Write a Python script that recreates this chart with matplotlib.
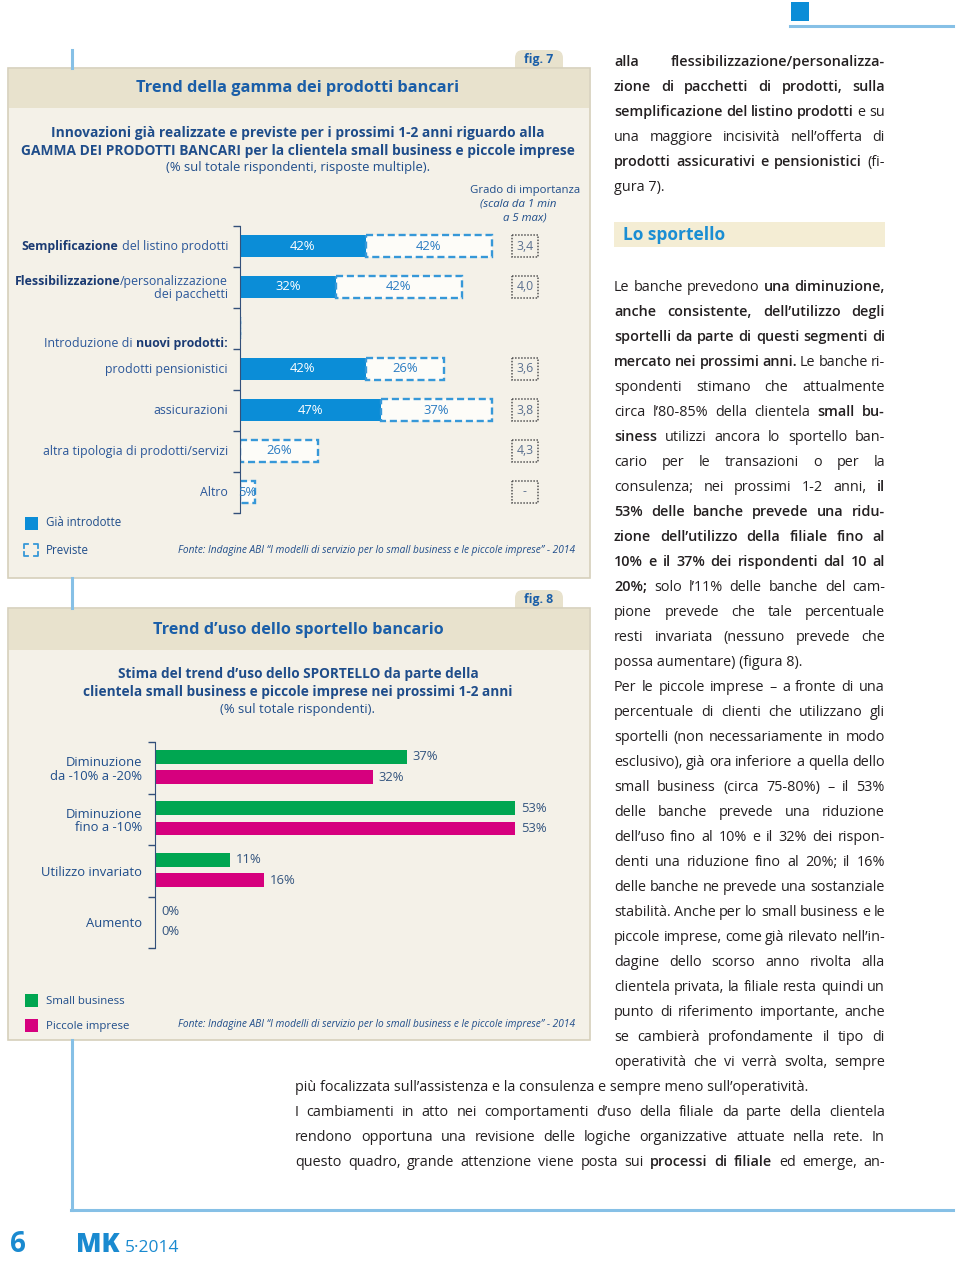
import matplotlib
matplotlib.use('Agg')
import numpy as np
import matplotlib.pyplot as plt
import matplotlib.transforms as mtransforms
from matplotlib.patches import Rectangle, FancyBboxPatch
from matplotlib.lines import Line2D

plt.rcParams['font.family'] = ['Open Sans', 'DejaVu Sans']

# dati fig. 7 (% rispondenti)
cat7 = ['*Semplificazione* del listino prodotti',
        '*Flessibilizzazione*/personalizzazione\ndei pacchetti',
        'Introduzione di *nuovi prodotti:*',
        'prodotti pensionistici',
        'assicurazioni',
        'altra tipologia di prodotti/servizi',
        'Altro']
gia7 = [42, 32, 0, 42, 47, 0, 0]
prev7 = [42, 42, 0, 26, 37, 26, 5]
grado7 = ['3,4', '4,0', '', '3,6', '3,8', '4,3', '-']

# dati fig. 8
cat8 = ['Diminuzione\nda -10% a -20%', 'Diminuzione\nfino a -10%', 'Utilizzo invariato', 'Aumento']
small8 = [37, 53, 11, 0]
piccole8 = [32, 53, 16, 0]

# testo colonna destra  (y, testo, giustificato)  *...* = grassetto
col_dx = [
    (61, '*alla flessibilizzazione/personalizza-*', True),
    (86, '*zione di pacchetti di prodotti, sulla*', True),
    (111, '*semplificazione del listino prodotti* e su', True),
    (136, 'una maggiore incisività nell’offerta di', True),
    (161, '*prodotti assicurativi e pensionistici* (fi-', True),
    (186, 'gura 7).', False),
    (286, 'Le banche prevedono *una diminuzione,*', True),
    (311, '*anche consistente, dell’utilizzo degli*', True),
    (336, '*sportelli da parte di questi segmenti di*', True),
    (361, '*mercato nei prossimi anni.* Le banche ri-', True),
    (386, 'spondenti stimano che attualmente', True),
    (411, 'circa l’80-85% della clientela *small bu-*', True),
    (436, '*siness* utilizzi ancora lo sportello ban-', True),
    (461, 'cario per le transazioni o per la', True),
    (486, 'consulenza; nei prossimi 1-2 anni, *il*', True),
    (511, '*53% delle banche prevede una ridu-*', True),
    (536, '*zione dell’utilizzo della filiale fino al*', True),
    (561, '*10% e il 37% dei rispondenti dal 10 al*', True),
    (586, '*20%;* solo l’11% delle banche del cam-', True),
    (611, 'pione prevede che tale percentuale', True),
    (636, 'resti invariata (nessuno prevede che', True),
    (661, 'possa aumentare) (figura 8).', False),
    (686, 'Per le piccole imprese – a fronte di una', True),
    (711, 'percentuale di clienti che utilizzano gli', True),
    (736, 'sportelli (non necessariamente in modo', True),
    (761, 'esclusivo), già ora inferiore a quella dello', True),
    (786, 'small business (circa 75-80%) – il 53%', True),
    (811, 'delle banche prevede una riduzione', True),
    (836, 'dell’uso fino al 10% e il 32% dei rispon-', True),
    (861, 'denti una riduzione fino al 20%; il 16%', True),
    (886, 'delle banche ne prevede una sostanziale', True),
    (911, 'stabilità. Anche per lo small business e le', True),
    (936, 'piccole imprese, come già rilevato nell’in-', True),
    (961, 'dagine dello scorso anno rivolta alla', True),
    (986, 'clientela privata, la filiale resta quindi un', True),
    (1011, 'punto di riferimento importante, anche', True),
    (1036, 'se cambierà profondamente il tipo di', True),
    (1061, 'operatività che vi verrà svolta, sempre', True),
]
col_basso = [
    (1086, 'più focalizzata sull’assistenza e la consulenza e sempre meno sull’operatività.', False),
    (1111, 'I cambiamenti in atto nei comportamenti d’uso della filiale da parte della clientela', True),
    (1136, 'rendono opportuna una revisione delle logiche organizzative attuate nella rete. In', True),
    (1161, 'questo quadro, grande attenzione viene posta sui *processi di filiale* ed emerge, an-', True),
]

BLUE = '#0b8dd7'
DASH = '#3698d8'
TITLE = '#1a5ea8'
DARK = '#1f4d8a'
NAVY = '#1b3b73'
LABEL = '#2b5799'
BODY = '#231f20'
BOXBG = '#f4f1e8'
HEADBG = '#e8e2cd'
BORDER = '#d6d0bb'
RULE = '#86c0e6'
FOOT = '#1a8ad0'
GREEN = '#00a651'
MAGENTA = '#d6007e'

W, H = 960, 1261
fig = plt.figure(figsize=(W / 100, H / 100), dpi=100)
fig.patch.set_facecolor('white')
R = fig.canvas.get_renderer()
PX = mtransforms.Affine2D().scale(1, -1).translate(0, H)   # pixel, origine in alto


def T(x, y, s, **kw):
    kw.setdefault('va', 'center')
    return fig.text(x, y, s, transform=PX, **kw)


def rect(x0, y0, x1, y1, **kw):
    p = Rectangle((x0, y0), x1 - x0, y1 - y0, transform=PX, **kw)
    fig.add_artist(p)
    return p


def line(xs, ys, **kw):
    fig.add_artist(Line2D(xs, ys, transform=PX, **kw))


def wd(t):
    return t.get_window_extent(renderer=R).width


def parse(s):
    segs = []
    for k, part in enumerate(s.split('*')):
        if part:
            segs.append((part, k % 2 == 1))
    return segs


def space(size):
    a = T(0, 0, 'n n', fontsize=size)
    b = T(0, 0, 'nn', fontsize=size)
    w = wd(a) - wd(b)
    a.remove()
    b.remove()
    return w


def rich(x, y, s, ha='left', size=9.0, color=BODY, bcolor=None, x1=None, bw='bold'):
    # y = centro riga; si allinea sulla linea di base
    bcolor = bcolor or color
    segs = parse(s)
    groups = []      # ogni gruppo: pezzi attaccati senza spazio
    glue = False
    for txt, b in segs:
        parts = txt.split(' ') if x1 is not None else [txt.strip()]
        for j, p in enumerate(parts):
            if p == '':
                continue
            if j == 0 and glue and groups and not txt.startswith(' '):
                groups[-1].append((p, b))
            else:
                groups.append([(p, b)])
        glue = not txt.endswith(' ')
    while True:
        base = y + size * 100 / 72 * 0.36
        arts, ws = [], []
        for g in groups:
            a = [T(0, base, p, fontsize=size, fontweight=bw if b else 'normal',
                   color=bcolor if b else color, va='baseline') for p, b in g]
            arts.append(a)
            ws.append([wd(t) for t in a])
        sp = space(size)
        tot = sum(sum(w) for w in ws)
        if x1 is not None and len(groups) > 1:
            gap = (x1 - x - tot) / (len(groups) - 1)
            if gap < sp * 0.75:
                for a in arts:
                    for t in a:
                        t.remove()
                size *= 0.985
                continue
        else:
            gap = sp
        break
    total = tot + gap * (len(groups) - 1)
    xx = x - total if ha == 'right' else (x - total / 2 if ha == 'center' else x)
    for a, w in zip(arts, ws):
        for t, wi in zip(a, w):
            t.set_x(xx)
            xx += wi
        xx += gap


# ---------- decorazioni pagina
rect(791, 2, 809, 21, color=BLUE, lw=0)
line([790, 953], [26, 26], color=RULE, lw=2.2)
line([72, 72], [50, 68], color=RULE, lw=2.2)
line([72, 72], [578, 608], color=RULE, lw=2.2)
line([72, 72], [1040, 1210], color=RULE, lw=2.2)
line([71, 953], [1210, 1210], color=RULE, lw=2.2)

T(18, 1245, '6', fontsize=20, fontweight='bold', color=FOOT, ha='center')
T(76, 1245, 'MK', fontsize=19, fontweight='heavy', color=FOOT, ha='left')
T(125, 1248, '5·2014', fontsize=12.5, color=FOOT, ha='left')

# ---------- riquadri figure
for (y0, yh, y1, lab) in [(68, 108, 578, 'fig. 7'), (608, 650, 1040, 'fig. 8')]:
    tab = FancyBboxPatch((515, y0 - 18), 48, 26, boxstyle='round,pad=0,rounding_size=8',
                         transform=PX, fc=HEADBG, ec='none', zorder=-3)
    fig.add_artist(tab)
    T(539, y0 - 9, lab, fontsize=8.8, fontweight='bold', color=TITLE, ha='center')
    rect(8, y0, 590, y1, fc=BOXBG, ec=BORDER, lw=1.2, zorder=-2)
    rect(9, y0 + 1, 589, yh, fc=HEADBG, ec='none', zorder=-1)

# ---------- fig. 7 testi
T(298, 88, 'Trend della gamma dei prodotti bancari', fontsize=11.8, fontweight='bold',
  color=TITLE, ha='center')
T(298, 133, 'Innovazioni già realizzate e previste per i prossimi 1-2 anni riguardo alla',
  fontsize=9.9, fontweight='bold', color=DARK, ha='center')
T(298, 151, 'GAMMA DEI PRODOTTI BANCARI per la clientela small business e piccole imprese',
  fontsize=9.9, fontweight='bold', color=DARK, ha='center')
T(298, 168, '(% sul totale rispondenti, risposte multiple).', fontsize=9.4, color=DARK,
  ha='center')
T(525, 190, 'Grado di importanza', fontsize=8.2, color=DARK, ha='center')
T(518, 204, '(scala da 1 min', fontsize=8.2, color=DARK, ha='center', fontstyle='italic')
T(525, 218, 'a 5 max)', fontsize=8.2, color=DARK, ha='center', fontstyle='italic')

ax7 = fig.add_axes([240 / W, 1 - 512.5 / H, 300 / W, 287 / H])
ax7.patch.set_visible(False)
pos7 = np.arange(len(cat7))
ax7.barh(pos7, gia7, height=0.56, color=BLUE, lw=0)
ax7.barh(pos7, prev7, left=gia7, height=0.54, facecolor='#fdfcf8', edgecolor=DASH,
         linestyle=(0, (3, 1.6)), linewidth=1.7)
ax7.set_xlim(0, 100)
ax7.set_ylim(len(cat7) - 0.5, -0.5)
ax7.set_xticks([])
ax7.set_yticks(np.arange(-0.5, len(cat7), 1))
ax7.set_yticklabels([])
ax7.tick_params(axis='y', length=5, width=1, color='#33507a', direction='out')
for s in ['top', 'right', 'bottom']:
    ax7.spines[s].set_visible(False)
ax7.spines['left'].set_color('#33507a')
tr7 = mtransforms.blended_transform_factory(ax7.transAxes, ax7.transData)
for i in range(len(cat7)):
    if gia7[i] > 0:
        ax7.text(gia7[i] / 2, i, f'{gia7[i]}%', color='white', ha='center', va='center',
                 fontsize=9.4)
    if prev7[i] > 0:
        ax7.text(gia7[i] + prev7[i] / 2, i, f'{prev7[i]}%', color='#2b7cc2',
                 ha='center', va='center', fontsize=9.4)
    if grado7[i]:
        ax7.add_patch(Rectangle((0.907, i - 0.27), 0.086, 0.54, transform=tr7, fill=False,
                                ls=(0, (1, 1)), lw=1.1, ec='#555555', clip_on=False))
        ax7.text(0.95, i, grado7[i], transform=tr7, ha='center', va='center',
                 fontsize=8.8, color='#5b7190')

fig.canvas.draw()
for i, lab in enumerate(cat7):
    yc = H - ax7.transData.transform((0, i))[1]
    if i == 2:
        yc += 15
    rows = lab.split('\n')
    for k, r in enumerate(rows):
        rich(228, yc + (k - (len(rows) - 1) / 2) * 12.5, r, ha='right', size=8.95,
             color=LABEL, bcolor=NAVY)

rect(25, 517, 38, 530, color=BLUE, lw=0)
T(46, 523, 'Già introdotte', fontsize=8.3, color=DARK)
for (cx, cy, dx, dy) in [(24, 544, 1, 1), (38, 544, -1, 1), (24, 556, 1, -1), (38, 556, -1, -1)]:
    line([cx + 4 * dx, cx, cx], [cy, cy, cy + 4 * dy], color=DASH, lw=1.3)
T(46, 550, 'Previste', fontsize=8.3, color=DARK)
fonte = 'Fonte: Indagine ABI “I modelli di servizio per lo small business e le piccole imprese” - 2014'
T(575, 551, fonte, fontsize=7.3, fontstyle='italic', color=DARK, ha='right')

# ---------- fig. 8
T(298, 630, 'Trend d’uso dello sportello bancario', fontsize=11.7, fontweight='bold',
  color=TITLE, ha='center')
T(298, 674, 'Stima del trend d’uso dello SPORTELLO da parte della', fontsize=9.8,
  fontweight='bold', color=DARK, ha='center')
T(298, 692, 'clientela small business e piccole imprese nei prossimi 1-2 anni', fontsize=9.8,
  fontweight='bold', color=DARK, ha='center')
T(298, 710, '(% sul totale rispondenti).', fontsize=9.4, color=DARK, ha='center')

ax8 = fig.add_axes([155 / W, 1 - 948 / H, 408 / W, 206 / H])
ax8.patch.set_visible(False)
pos8 = np.arange(len(cat8))
ax8.barh(pos8 - 0.21, small8, height=0.27, color=GREEN, lw=0)
ax8.barh(pos8 + 0.18, piccole8, height=0.27, color=MAGENTA, lw=0)
ax8.set_xlim(0, 60)
ax8.set_ylim(len(cat8) - 0.5, -0.5)
ax8.set_xticks([])
ax8.set_yticks(np.arange(-0.5, len(cat8), 1))
ax8.set_yticklabels([])
ax8.set_yticks(pos8, cat8, minor=True)
ax8.tick_params(axis='y', which='major', length=5, width=1, color='#33507a')
ax8.tick_params(axis='y', which='minor', length=0, pad=9.5, labelsize=9.4, labelcolor=DARK)
for lb in ax8.get_yticklabels(minor=True):
    lb.set_linespacing(1.05)
for s in ['top', 'right', 'bottom']:
    ax8.spines[s].set_visible(False)
ax8.spines['left'].set_color('#33507a')
for i in range(len(cat8)):
    ax8.text(small8[i] + 0.9, i - 0.21, f'{small8[i]}%', va='center', fontsize=9.4,
             color='#34557f')
    ax8.text(piccole8[i] + 0.9, i + 0.18, f'{piccole8[i]}%', va='center', fontsize=9.4,
             color='#34557f')

rect(25, 994, 38, 1007, color=GREEN, lw=0)
T(46, 1001, 'Small business', fontsize=8.2, color=DARK)
rect(25, 1019, 38, 1032, color=MAGENTA, lw=0)
T(46, 1026, 'Piccole imprese', fontsize=8.2, color=DARK)
T(575, 1025, fonte, fontsize=7.3, fontstyle='italic', color=DARK, ha='right')

# ---------- colonna di testo
rect(614, 222, 885, 247, fc='#f4edd4', ec='none')
T(623, 235, 'Lo sportello', fontsize=12.5, fontweight='bold', color='#1b8ed3')
for y, s, just in col_dx:
    rich(614, y, s, size=10.4, x1=885 if just else None, bw='semibold')
for y, s, just in col_basso:
    rich(295, y, s, size=10.4, x1=885 if just else None, bw='semibold')

fig.savefig('out.png', dpi=100, facecolor='white')
